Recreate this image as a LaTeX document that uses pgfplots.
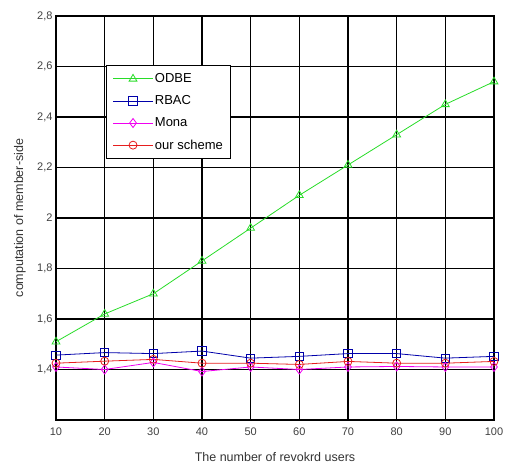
\documentclass[border=0pt]{standalone}
\usepackage{pgfplots}
\pgfplotsset{compat=1.18}
\usepackage{fontspec}
\setmainfont{Liberation Sans}
\definecolor{cgreen}{RGB}{40,220,40}
\definecolor{cblue}{RGB}{0,0,170}
\definecolor{cmag}{RGB}{240,0,240}
\definecolor{cred}{RGB}{230,30,30}
\begin{document}
\begin{tikzpicture}
\begin{axis}[
  scale only axis,
  width=438pt, height=404pt,
  xmin=10, xmax=100, ymin=1.2, ymax=2.8,
  xtick={10,20,...,100},
  ytick={1.4,1.6,...,2.8},
  /pgf/number format/use comma,
  /pgf/number format/fixed,
  /pgf/number format/precision=1,
  /pgf/number format/assume math mode=true,
  xmajorgrids, ymajorgrids,
  major grid style={black, line width=1.4pt},
  axis line style={black, line width=1.4pt},
  tick style={black, thin},
  major tick length=3pt,
  tick align=inside,
  tick label style={font=\fontsize{11}{13}\selectfont, color=black!75},
  xticklabel style={yshift=-4pt},
  xlabel={The number of revokrd users},
  ylabel={computation of member-side},
  label style={font=\fontsize{12.5}{14}\selectfont, color=black!80},
  xlabel style={at={(rel axis cs:0.5,0)}, anchor=center, yshift=-37pt},
  ylabel style={at={(rel axis cs:0,0.5)}, anchor=center, rotate=0, yshift=36pt},
  legend style={at={(0.114,0.879)}, anchor=north west, draw=black, line width=1.4pt,
    font=\fontsize{13}{15}\selectfont, row sep=8.5pt, inner xsep=6pt, inner ysep=6.5pt,
    nodes={line width=0.4pt, inner sep=1.5pt}},
  legend cell align=left,
  legend image code/.code={\draw[#1, line width=0.8pt, mark=none] (0pt,0pt) -- (40pt,0pt); \draw[#1, line width=0.8pt, only marks] plot coordinates {(20pt,0pt)};},
]
\addplot[cgreen, line width=0.8pt, mark=triangle, mark size=4.5pt] coordinates {
(10,1.51) (20,1.62) (30,1.70) (40,1.83) (50,1.96) (60,2.09) (70,2.21) (80,2.33) (90,2.45) (100,2.54)};
\addlegendentry{ODBE}
\addplot[cblue, line width=0.8pt, mark=square, mark size=4.2pt] coordinates {
(10,1.457) (20,1.467) (30,1.463) (40,1.473) (50,1.445) (60,1.452) (70,1.463) (80,1.463) (90,1.445) (100,1.452)};
\addlegendentry{RBAC}
\addplot[cmag, line width=0.8pt, mark=diamond, mark size=4.5pt] coordinates {
(10,1.41) (20,1.40) (30,1.428) (40,1.392) (50,1.41) (60,1.40) (70,1.41) (80,1.412) (90,1.41) (100,1.41)};
\addlegendentry{Mona}
\addplot[cred, line width=0.8pt, mark=o, mark size=4pt] coordinates {
(10,1.425) (20,1.433) (30,1.44) (40,1.425) (50,1.425) (60,1.42) (70,1.432) (80,1.425) (90,1.425) (100,1.432)};
\addlegendentry{our scheme}
\coordinate (ll) at (rel axis cs:0,0);
\coordinate (ur) at (rel axis cs:1,1);
\end{axis}
\path[use as bounding box] ([shift={(-56pt,-46pt)}]ll) rectangle ([shift={(15pt,16pt)}]ur);
\end{tikzpicture}
\end{document}
